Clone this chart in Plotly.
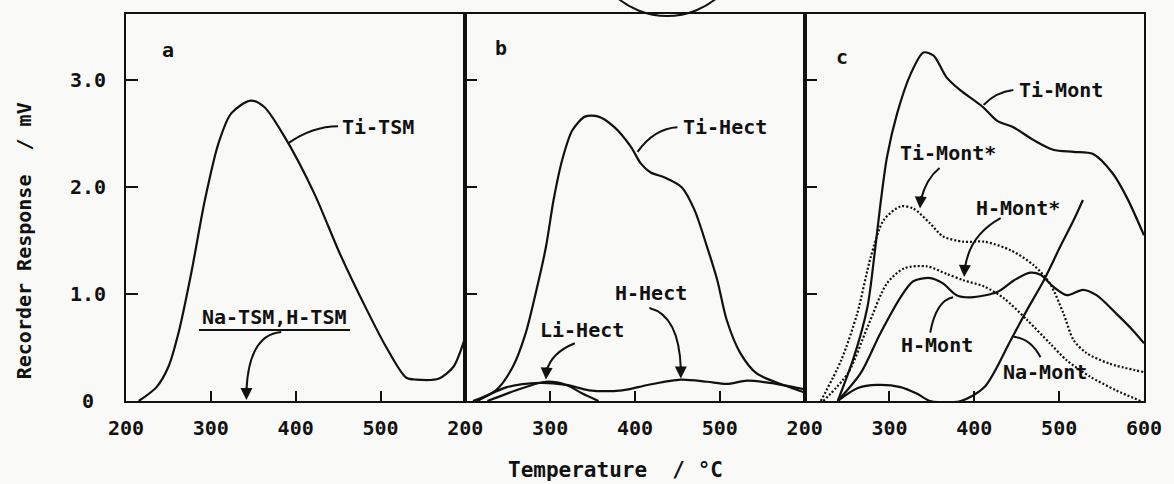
import plotly.graph_objects as go

# ---------------- data ----------------
T_ti_tsm = [215, 236, 250, 262, 277, 293, 309, 324, 347, 363, 387, 422, 452, 484, 507, 530, 542, 569, 586, 594, 600]
R_ti_tsm = [0.0, 0.13, 0.32, 0.64, 1.20, 1.88, 2.41, 2.69, 2.81, 2.75, 2.47, 1.94, 1.38, 0.85, 0.50, 0.22, 0.20, 0.21, 0.32, 0.46, 0.60]

T_ti_hect = [209, 236, 256, 271, 283, 295, 304, 314, 326, 341, 357, 376, 395, 407, 418, 435, 455, 470, 485, 497, 508, 524, 543, 575, 600]
R_ti_hect = [0.0, 0.10, 0.32, 0.63, 1.01, 1.44, 1.88, 2.25, 2.53, 2.66, 2.66, 2.56, 2.38, 2.22, 2.14, 2.09, 2.00, 1.79, 1.44, 1.13, 0.76, 0.45, 0.26, 0.15, 0.08]

T_h_hect = [214, 249, 288, 319, 346, 385, 415, 454, 485, 508, 532, 559, 600]
R_h_hect = [0.0, 0.13, 0.17, 0.15, 0.10, 0.10, 0.15, 0.20, 0.18, 0.16, 0.19, 0.17, 0.11]

T_li_hect = [226, 260, 295, 319, 338, 357]
R_li_hect = [0.0, 0.10, 0.18, 0.15, 0.07, 0.0]

T_ti_mont = [239, 258, 274, 282, 289, 297, 309, 325, 340, 352, 367, 383, 410, 427, 446, 470, 493, 517, 540, 563, 580, 600]
R_ti_mont = [0.0, 0.41, 0.88, 1.35, 1.82, 2.28, 2.69, 3.06, 3.26, 3.23, 3.03, 2.91, 2.75, 2.62, 2.56, 2.44, 2.35, 2.33, 2.31, 2.13, 1.90, 1.55]

T_ti_mont_s = [219, 243, 262, 278, 293, 313, 328, 348, 363, 387, 412, 443, 470, 489, 505, 517, 532, 559, 600]
R_ti_mont_s = [0.0, 0.38, 0.82, 1.35, 1.69, 1.82, 1.80, 1.66, 1.54, 1.49, 1.49, 1.41, 1.27, 1.10, 0.82, 0.57, 0.45, 0.35, 0.27]

T_h_mont_s = [222, 251, 274, 297, 317, 344, 367, 387, 412, 435, 462, 489, 509, 536, 567, 596]
R_h_mont_s = [0.0, 0.26, 0.69, 1.10, 1.24, 1.26, 1.19, 1.13, 1.07, 0.96, 0.76, 0.54, 0.38, 0.23, 0.10, 0.0]

T_h_mont = [239, 266, 289, 313, 328, 348, 363, 379, 396, 427, 447, 466, 478, 493, 509, 528, 544, 567, 587, 600]
R_h_mont = [0.0, 0.26, 0.63, 0.97, 1.12, 1.15, 1.10, 0.99, 0.97, 1.02, 1.13, 1.20, 1.18, 1.07, 0.99, 1.04, 0.99, 0.82, 0.66, 0.54]

T_na_mont = [239, 262, 286, 313, 332, 348, 384, 412, 443, 462, 482, 501, 517, 528]
R_na_mont = [0.0, 0.12, 0.15, 0.13, 0.07, 0.0, 0.0, 0.13, 0.57, 0.85, 1.13, 1.44, 1.69, 1.88]

x_ticks_ab = [200, 300, 400, 500]
x_ticks_c = [200, 300, 400, 500, 600]
y_ticks = [0, 1, 2, 3]
y_tick_text = ["0\u00a0", "1.0", "2.0", "3.0"]

# ---------------- figure ----------------
FONT = "DejaVu Sans Mono"
INK = "#111111"
BG = "#f9f9f7"

fig = go.Figure()

def curve(x, y, xa, ya, dash="solid", name=""):
    fig.add_trace(go.Scatter(
        x=x, y=y, mode="lines", name=name, xaxis=xa, yaxis=ya,
        line=dict(color=INK, width=2.2, dash=dash, shape="spline", smoothing=0.8),
        showlegend=False, hoverinfo="skip"))

curve(T_ti_tsm, R_ti_tsm, "x", "y", name="Ti-TSM")
curve(T_ti_hect, R_ti_hect, "x2", "y2", name="Ti-Hect")
curve(T_h_hect, R_h_hect, "x2", "y2", name="H-Hect")
curve(T_li_hect, R_li_hect, "x2", "y2", name="Li-Hect")
curve(T_ti_mont, R_ti_mont, "x3", "y3", name="Ti-Mont")
curve(T_ti_mont_s, R_ti_mont_s, "x3", "y3", dash="2px,2px", name="Ti-Mont*")
curve(T_h_mont_s, R_h_mont_s, "x3", "y3", dash="2px,2px", name="H-Mont*")
curve(T_h_mont, R_h_mont, "x3", "y3", name="H-Mont")
curve(T_na_mont, R_na_mont, "x3", "y3", name="Na-Mont")

tickfont = dict(family=FONT, size=20, color=INK, weight="bold")
xcommon = dict(range=[200, 600], showline=True, linecolor=INK, linewidth=2, mirror=True,
               ticks="inside", ticklen=10, tickwidth=2, tickcolor=INK,
               showgrid=False, zeroline=False, tickfont=tickfont, ticklabelstandoff=8)
ycommon = dict(range=[0, 3.62], showline=True, linecolor=INK, linewidth=2, mirror=True,
               ticks="inside", ticklen=12, tickwidth=2, tickcolor=INK,
               showgrid=False, zeroline=False, tickfont=tickfont)

fig.update_layout(
    width=1174, height=484,
    margin=dict(l=126, r=19, t=14, b=83),
    paper_bgcolor=BG, plot_bgcolor=BG,
    xaxis=dict(domain=[0, 1/3], anchor="y", tickvals=x_ticks_ab, **xcommon),
    xaxis2=dict(domain=[1/3, 2/3], anchor="y2", tickvals=x_ticks_ab, **xcommon),
    xaxis3=dict(domain=[2/3, 1], anchor="y3", tickvals=x_ticks_c, **xcommon),
    yaxis=dict(anchor="x", tickvals=y_ticks, ticktext=y_tick_text, ticklabelstandoff=14, **ycommon),
    yaxis2=dict(anchor="x2", tickvals=y_ticks[1:], showticklabels=False, **ycommon),
    yaxis3=dict(anchor="x3", tickvals=y_ticks[1:], showticklabels=False, **ycommon),
)

lblfont = dict(family=FONT, size=20, color=INK, weight="bold")

def label(text, x, y, xr, yr, xanchor="center"):
    fig.add_annotation(text=text, x=x, y=y, xref=xr, yref=yr, showarrow=False,
                       xanchor=xanchor, yanchor="middle", font=lblfont)

def leader(p0, c, p1, xr, yr):
    fig.add_shape(type="path", xref=xr, yref=yr,
                  path=f"M {p0[0]},{p0[1]} Q {c[0]},{c[1]} {p1[0]},{p1[1]}",
                  line=dict(color=INK, width=2))

def head(tip, tail, xr, yr):
    fig.add_annotation(x=tip[0], y=tip[1], ax=tail[0], ay=tail[1], xref=xr, yref=yr,
                       axref=xr, ayref=yr, text="", showarrow=True, arrowhead=2,
                       arrowsize=1.2, arrowwidth=2, arrowcolor=INK, standoff=0)

# panel letters
label("a", 249, 3.28, "x", "y")
label("b", 242, 3.30, "x2", "y2")
label("c", 244, 3.22, "x3", "y3")

# panel a labels
label("Ti-TSM", 452, 2.56, "x", "y", xanchor="left")
leader((450, 2.57), (420, 2.57), (391, 2.41), "x", "y")
label("Na-TSM,H-TSM", 375, 0.79, "x", "y")
fig.add_shape(type="line", xref="x", yref="y", x0=286, x1=464, y0=0.664, y1=0.664,
              line=dict(color=INK, width=2))
leader((383, 0.645), (345, 0.62), (342, 0.10), "x", "y")
head((342, 0.01), (342, 0.14), "x", "y")

# panel b labels
label("Ti-Hect", 454, 2.56, "x2", "y2", xanchor="left")
leader((450, 2.56), (423, 2.55), (403, 2.33), "x2", "y2")
label("H-Hect", 419, 1.01, "x2", "y2")
leader((417, 0.87), (452, 0.80), (454, 0.30), "x2", "y2")
head((454, 0.21), (454, 0.34), "x2", "y2")
label("Li-Hect", 338, 0.66, "x2", "y2")
leader((329, 0.54), (301, 0.45), (296, 0.28), "x2", "y2")
head((295, 0.20), (296, 0.33), "x2", "y2")

# panel c labels
label("Ti-Mont", 450, 2.91, "x3", "y3", xanchor="left")
leader((446, 2.91), (425, 2.89), (411, 2.77), "x3", "y3")
label("Ti-Mont*", 369, 2.32, "x3", "y3")
leader((359, 2.18), (343, 2.08), (337, 1.88), "x3", "y3")
head((336, 1.80), (337, 1.93), "x3", "y3")
label("H-Mont*", 452, 1.81, "x3", "y3")
leader((431, 1.71), (394, 1.55), (389, 1.24), "x3", "y3")
head((388, 1.16), (389, 1.29), "x3", "y3")
label("H-Mont", 356, 0.52, "x3", "y3")
leader((348, 0.64), (355, 0.94), (375, 0.97), "x3", "y3")
label("Na-Mont", 483, 0.27, "x3", "y3")
leader((478, 0.41), (466, 0.59), (446, 0.60), "x3", "y3")

# axis titles
fig.add_annotation(text="Temperature  / °C", x=0.481, y=-0.178, xref="paper", yref="paper",
                   showarrow=False, xanchor="center", yanchor="middle",
                   font=dict(family=FONT, size=21, color=INK, weight="bold"))
fig.add_annotation(text="Recorder Response  / mV", x=-0.1001, y=0.413, xref="paper", yref="paper",
                   showarrow=False, textangle=-90, xanchor="center", yanchor="middle",
                   font=dict(family=FONT, size=20, color=INK, weight="bold"))

# stamp outline at the top (partially visible)
fig.add_shape(type="circle", xref="paper", yref="paper",
              x0=0.4548, x1=0.6084, y0=0.9948, y1=1.403,
              line=dict(color=INK, width=2), layer="above")

fig.write_html("out.html")
